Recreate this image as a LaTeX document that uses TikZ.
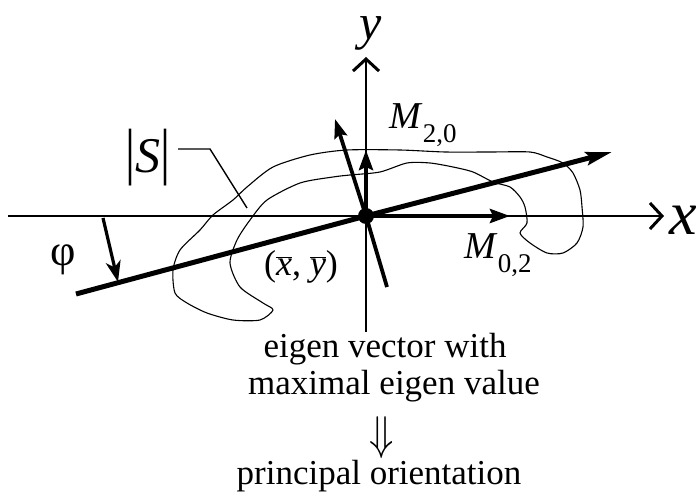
\documentclass[tikz,border=0pt]{standalone}
\usepackage{fontspec}
\setmainfont{Liberation Serif}
\usetikzlibrary{arrows.meta, positioning, calc}

\begin{document}
\begin{tikzpicture}[
    x=1pt, y=-1pt,
    axis/.style={line width=2.8pt,
                 -{Straight Barb[length=12pt, width=26pt, line width=3pt]}},
    vec/.style={line width=4pt, -{Stealth[length=20pt, width=14pt, inset=3pt]}},
    main/.style={line width=5pt, -{Stealth[length=26pt, width=13pt, inset=4pt]}},
    txt/.style={inner sep=0pt, font=\fontsize{35}{40}\selectfont},
    sym/.style={inner sep=0pt, font=\fontsize{38}{44}\selectfont}
  ]
  \useasboundingbox (0,0) rectangle (696,502);

  % Region outline |S|
  \draw[line width=1.1pt] plot[smooth cycle, tension=0.45] coordinates {
    (273,310) (260,320) (233,320) (207,313) (187,303) (175,293) (173,270)
    (180,250) (200,230) (213,215) (233,200) (247,187) (273,167) (310,155)
    (347,150) (400,150) (445,152) (490,152) (530,152) (547,157) (563,163)
    (573,173) (580,190) (582,207) (583,227) (577,243) (563,253) (547,253)
    (530,243) (520,233) (527,223) (525,207) (520,197) (510,187) (493,182)
    (473,172) (453,167) (430,163) (407,163) (380,172) (350,175) (333,177)
    (300,183) (267,200) (250,220) (237,240) (230,263) (240,287) (263,303)};

  % Centroid and axes
  \coordinate (O) at (366,216);
  \coordinate (xl) at (8,216);
  \coordinate (xr) at (664,216);
  \coordinate (yb) at (366,332);
  \coordinate (yt) at (366,57);
  \draw[axis] (xl) -- (xr);
  \draw[axis] (yb) -- (yt);
  \node[sym, font=\fontsize{62}{68}\selectfont\itshape] (xlab) at (683,220) {x};
  \node[sym, font=\fontsize{50}{56}\selectfont\itshape] (ylab) at (371,33) {y};

  % Moment vectors
  \coordinate (m20) at (366,150);
  \coordinate (m02) at (510,216);
  \draw[vec] (O) -- (m20);
  \draw[vec] (O) -- (m02);
  \node[sym] (m20lab) at (423,125) {\textit{M}\raisebox{-0.35em}{\fontsize{27}{30}\selectfont 2,0}};
  \node[sym] (m02lab) at (498,255) {\textit{M}\raisebox{-0.35em}{\fontsize{27}{30}\selectfont 0,2}};

  % Principal and minor axes
  \coordinate (pa) at (76,294);
  \coordinate (pb) at (612,152);
  \coordinate (qa) at (387,287);
  \coordinate (qb) at (335,119);
  \draw[line width=5pt] (pa) -- (O);
  \draw[main] (O) -- (pb);
  \draw[line width=3.8pt] (qa) -- (O);
  \draw[line width=3.8pt, -{Stealth[length=19pt, width=13pt, inset=3pt]}] (O) -- (qb);
  \fill (O) circle (8pt);

  % Angle phi
  \coordinate (ph1) at (103,218);
  \coordinate (ph2) at (118,282);
  \draw[line width=3.2pt, -{Stealth[length=21pt, width=15pt, inset=6pt]}] (ph1) -- (ph2);
  \node[txt, font=\fontsize{44}{48}\selectfont] (philab) at (63,260) {φ};

  % Labels
  \node[sym, font=\fontsize{50}{56}\selectfont] (slab) at (148,158)
    {\scalebox{1}[1.25]{|}\textit{S}\scalebox{1}[1.25]{|}};
  \coordinate (s1) at (178,149);
  \coordinate (s2) at (210,149);
  \coordinate (s3) at (247,208);
  \draw[line width=1.4pt] (s1) -- (s2) -- (s3);
  \node[sym, font=\fontsize{36}{40}\selectfont] (clab) at (301,267)
    {($\overline{\mbox{\itshape x}}$, $\overline{\mbox{\itshape y}}$)};

  % Text below
  \node[txt] (t1) at (385,349) {eigen vector with};
  \node[txt] (t2) at (394,386) {maximal eigen value};
  \node[txt] (t3) at (382,438) {\scalebox{1.6}[1.9]{$\Downarrow$}};
  \node[txt] (t4) at (379,476) {principal orientation};
\end{tikzpicture}
\end{document}
